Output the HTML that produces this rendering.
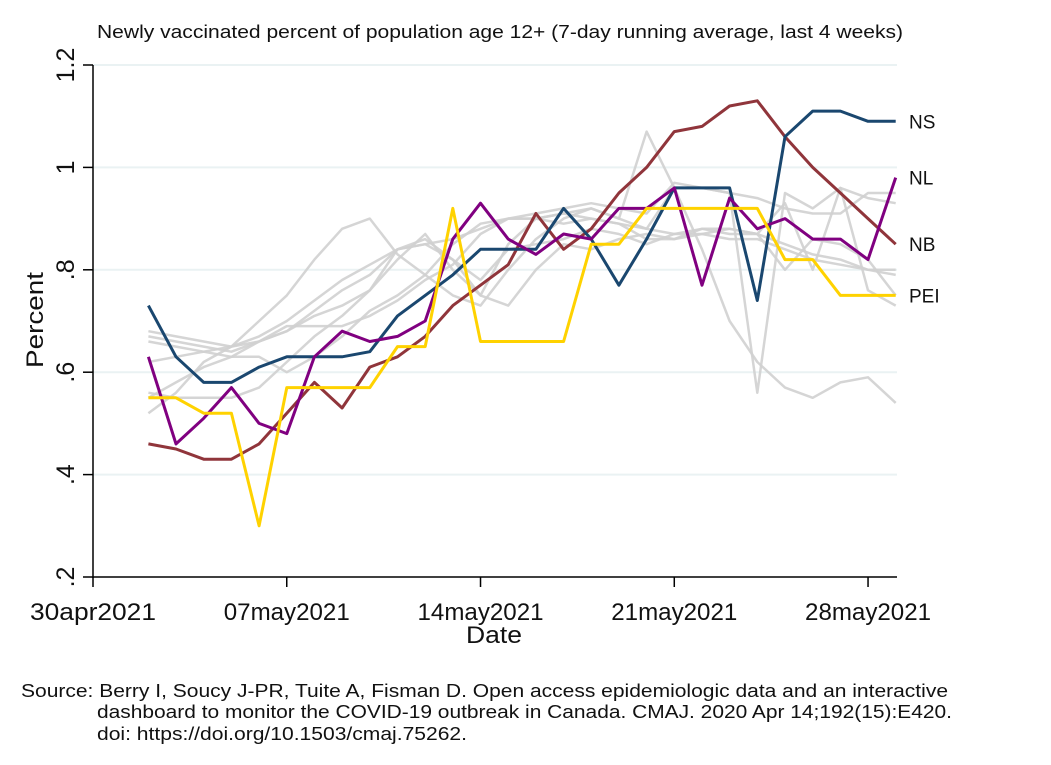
<!DOCTYPE html>
<html><head><meta charset="utf-8">
<style>
html,body{margin:0;padding:0;background:#fff;}
svg{display:block;font-family:"Liberation Sans",Arial,sans-serif;}
</style></head>
<body>
<svg id="chart" width="1051" height="765" viewBox="0 0 1051 765" xmlns="http://www.w3.org/2000/svg">
<rect x="0" y="0" width="1051" height="765" fill="#fff"/>
<text x="97" y="38" font-size="18" textLength="806" lengthAdjust="spacingAndGlyphs" fill="#111">Newly vaccinated percent of population age 12+ (7-day running average, last 4 weeks)</text>
<g id="grid"></g>
<g id="gray"></g>
<g id="series"></g>
<g id="axes"></g>
<text x="0" y="0" transform="translate(43,320) rotate(-90)" text-anchor="middle" font-size="24" textLength="96" lengthAdjust="spacingAndGlyphs" fill="#111">Percent</text>
<text x="494" y="643" text-anchor="middle" font-size="24" textLength="56" lengthAdjust="spacingAndGlyphs" fill="#111">Date</text>
<g font-size="18" fill="#111">
<text x="21" y="697" textLength="927" lengthAdjust="spacingAndGlyphs">Source: Berry I, Soucy J-PR, Tuite A, Fisman D. Open access epidemiologic data and an interactive</text>
<text x="97" y="718" textLength="855" lengthAdjust="spacingAndGlyphs">dashboard to monitor the COVID-19 outbreak in Canada. CMAJ. 2020 Apr 14;192(15):E420.</text>
<text x="97" y="740" textLength="370" lengthAdjust="spacingAndGlyphs">doi: https://doi.org/10.1503/cmaj.75262.</text>
</g>
</svg>
<script>
// Day offsets from 30apr2021: points from 02may (2) to 29may (29)
const days = [2,3,4,5,6,7,8,9,10,11,12,13,14,15,16,17,18,19,20,21,22,23,24,25,26,27,28,29];
const yTicks = [0.2,0.4,0.6,0.8,1,1.2];
const yTickLabels = [".2",".4",".6",".8","1","1.2"];
const xTicks = [0,7,14,21,28];
const xTickLabels = ["30apr2021","07may2021","14may2021","21may2021","28may2021"];
const seriesNames = ["NS","NL","NB","PEI"];
const seriesColors = ["#1a476f","#800080","#90353b","#ffd200"];
const NS  = [0.73,0.63,0.58,0.58,0.61,0.63,0.63,0.63,0.64,0.71,0.75,0.79,0.84,0.84,0.84,0.92,0.86,0.77,0.86,0.96,0.96,0.96,0.74,1.06,1.11,1.11,1.09,1.09];
const NL  = [0.63,0.46,0.51,0.57,0.50,0.48,0.63,0.68,0.66,0.67,0.70,0.86,0.93,0.86,0.83,0.87,0.86,0.92,0.92,0.96,0.77,0.94,0.88,0.90,0.86,0.86,0.82,0.98];
const NB  = [0.46,0.45,0.43,0.43,0.46,0.52,0.58,0.53,0.61,0.63,0.67,0.73,0.77,0.81,0.91,0.84,0.88,0.95,1.00,1.07,1.08,1.12,1.13,1.06,1.00,0.95,0.90,0.85];
const PEI = [0.55,0.55,0.52,0.52,0.30,0.57,0.57,0.57,0.57,0.65,0.65,0.92,0.66,0.66,0.66,0.66,0.85,0.85,0.92,0.92,0.92,0.92,0.92,0.82,0.82,0.75,0.75,0.75];
const gray1 = [0.52,0.56,0.62,0.65,0.70,0.75,0.82,0.88,0.90,0.83,0.79,0.75,0.73,0.80,0.86,0.90,0.92,0.90,1.07,0.96,0.84,0.70,0.62,0.57,0.55,0.58,0.59,0.54];
const gray2 = [0.68,0.67,0.66,0.65,0.66,0.68,0.71,0.73,0.76,0.82,0.87,0.80,0.75,0.85,0.90,0.91,0.92,0.90,0.88,0.87,0.88,0.87,0.87,0.85,0.83,0.82,0.80,0.80];
const gray3 = [0.66,0.65,0.64,0.65,0.67,0.70,0.74,0.78,0.81,0.84,0.85,0.86,0.88,0.90,0.91,0.92,0.93,0.92,0.91,0.97,0.96,0.95,0.94,0.92,0.91,0.91,0.95,0.95];
const gray4 = [0.56,0.55,0.55,0.55,0.57,0.62,0.67,0.71,0.76,0.84,0.85,0.82,0.78,0.84,0.85,0.86,0.88,0.87,0.85,0.87,0.87,0.86,0.86,0.84,0.82,0.81,0.80,0.79];
const gray5 = [0.62,0.63,0.64,0.63,0.63,0.60,0.63,0.67,0.72,0.75,0.79,0.85,0.89,0.90,0.90,0.91,0.90,0.89,0.88,0.96,0.96,0.95,0.56,0.95,0.92,0.96,0.94,0.93];
const gray6 = [0.67,0.66,0.65,0.64,0.66,0.69,0.69,0.69,0.71,0.74,0.78,0.81,0.87,0.90,0.90,0.89,0.90,0.89,0.86,0.86,0.88,0.88,0.87,0.93,0.80,0.96,0.76,0.73];
const gray7 = [0.55,0.58,0.61,0.63,0.66,0.68,0.72,0.76,0.79,0.84,0.86,0.82,0.75,0.73,0.80,0.85,0.84,0.86,0.87,0.86,0.87,0.88,0.87,0.80,0.86,0.85,0.82,0.75];
const grays = [gray1,gray2,gray3,gray4,gray5,gray6,gray7];

const NS_ = "http://www.w3.org/2000/svg";
const x0 = 93, pxPerDay = 27.68;
function xScale(d){ return x0 + d*pxPerDay; }
function yScale(v){ return 577 - (v-0.2)*512; }
function mk(tag, attrs, parent){ const e=document.createElementNS(NS_,tag); for(const k in attrs) e.setAttribute(k,attrs[k]); parent.appendChild(e); return e; }
function pathD(vals){ return vals.map((v,i)=>(i?"L":"M")+xScale(days[i]).toFixed(1)+","+yScale(v).toFixed(1)).join(" "); }

const grid=document.getElementById('grid'), axes=document.getElementById('axes'), gray=document.getElementById('gray'), ser=document.getElementById('series');
yTicks.forEach((t,i)=>{
  if(i>0){ const g=mk('line',{x1:x0,x2:897,y1:yScale(t),y2:yScale(t),stroke:'#eaf2f3','stroke-width':2},grid);
    
     }
  const tk=mk('line',{x1:x0-10,x2:x0,y1:yScale(t),y2:yScale(t),stroke:'#000','stroke-width':1.5},axes);
  
  
  const lb=mk('text',{x:0,y:0,transform:`translate(74,${yScale(t)}) rotate(-90)`,'text-anchor':'middle','font-size':25,fill:'#111'},axes);
  lb.textContent=yTickLabels[i];
  
  
});
const ya=mk('line',{x1:x0,x2:x0,y1:yScale(1.2),y2:yScale(0.2)+1,stroke:'#000','stroke-width':1.5},axes);


const xa=mk('line',{x1:x0,x2:897,y1:yScale(0.2),y2:yScale(0.2),stroke:'#000','stroke-width':1.5},axes);


xTicks.forEach((d,i)=>{
  const tk=mk('line',{x1:xScale(d),x2:xScale(d),y1:yScale(0.2),y2:yScale(0.2)+10,stroke:'#000','stroke-width':1.5},axes);
  
  
  const lb=mk('text',{x:xScale(d),y:620,'text-anchor':'middle','font-size':24,textLength:126,lengthAdjust:'spacingAndGlyphs',fill:'#111'},axes);
  lb.textContent=xTickLabels[i];
  
  
});
grays.forEach(g=>{
  const p=mk('path',{d:pathD(g),fill:'none',stroke:'#d0d0d0','stroke-width':2.5,'stroke-linejoin':'round','stroke-opacity':0.9},gray);
  
  
});
const data=[NS,NL,NB,PEI];
const order=[2,0,1,3];
order.forEach(i=>{
  const p=mk('path',{d:pathD(data[i]),fill:'none',stroke:seriesColors[i],'stroke-width':3,'stroke-linejoin':'round'},ser);
  
  
});
seriesNames.forEach((n,i)=>{
  let v=data[i][data[i].length-1];
  if(n==="NL") v=0.98;
  const t=mk('text',{x:909,y:yScale(v)+7,'font-size':19,fill:'#111'},ser);
  t.textContent=n;
  
  
});
</script>
</body></html>
